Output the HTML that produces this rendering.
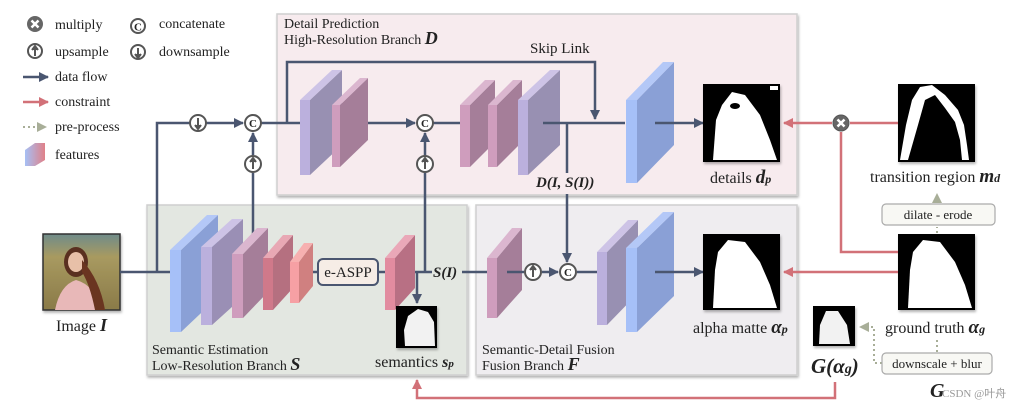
<!DOCTYPE html>
<html><head><meta charset="utf-8"><style>
html,body{margin:0;padding:0;background:#fff}
svg{display:block}
text{font-family:"Liberation Serif",serif;fill:#222}
.b{font-weight:bold;font-style:italic}
</style></head><body>
<svg width="1025" height="409" viewBox="0 0 1025 409" xmlns="http://www.w3.org/2000/svg">
<defs>
<marker id="ad" viewBox="0 0 10 10" refX="9" refY="5" markerWidth="4" markerHeight="4" orient="auto"><path d="M0,0L10,5L0,10z" fill="#4a5670"/></marker>
<marker id="ar" viewBox="0 0 10 10" refX="9" refY="5" markerWidth="4" markerHeight="4" orient="auto"><path d="M0,0L10,5L0,10z" fill="#d27178"/></marker>
<marker id="ag" viewBox="0 0 10 10" refX="9" refY="5" markerWidth="5" markerHeight="5" orient="auto"><path d="M0,0L10,5L0,10z" fill="#a8ae98"/></marker>
<linearGradient id="ph" x1="0" y1="0" x2="0" y2="1"><stop offset="0" stop-color="#6f8c8a"/><stop offset="0.3" stop-color="#a89a60"/><stop offset="1" stop-color="#8a7a48"/></linearGradient>
<linearGradient id="fe" x1="0" y1="0" x2="1" y2="0"><stop offset="0" stop-color="#a6c0f5"/><stop offset="1" stop-color="#e08088"/></linearGradient>
<filter id="sh"><feDropShadow dx="1" dy="2" stdDeviation="1.2" flood-opacity="0.3"/></filter>
</defs>

<rect x="277" y="14" width="520" height="181" fill="#f7ebee" stroke="#cfcfcf" stroke-width="1.5" filter="url(#sh)"/>
<rect x="147" y="205" width="320" height="170" fill="#e3e7e1" stroke="#cfcfcf" stroke-width="1.5" filter="url(#sh)"/>
<rect x="476" y="205" width="321" height="170" fill="#efedf0" stroke="#cfcfcf" stroke-width="1.5" filter="url(#sh)"/>

<text x="284" y="28" font-size="14">Detail Prediction</text>
<text x="284" y="44" font-size="14">High-Resolution Branch <tspan class="b" font-size="18">D</tspan></text>
<text x="152" y="354" font-size="14">Semantic Estimation</text>
<text x="152" y="370" font-size="14">Low-Resolution Branch <tspan class="b" font-size="18">S</tspan></text>
<text x="482" y="354" font-size="14">Semantic-Detail Fusion</text>
<text x="482" y="370" font-size="14">Fusion Branch <tspan class="b" font-size="18">F</tspan></text>

<g stroke="#555" stroke-width="2" fill="#fff">
<circle cx="35" cy="51" r="7"/><circle cx="138" cy="26" r="7"/><circle cx="138" cy="52" r="7"/>
</g>
<circle cx="35" cy="24" r="8" fill="#666"/>
<path d="M31.5,20.5L38.5,27.5M38.5,20.5L31.5,27.5" stroke="#fff" stroke-width="2.5"/>
<path d="M35,56V47M32,50L35,46L38,50" stroke="#555" stroke-width="2" fill="#555"/>
<path d="M138,48V57M135,54L138,58L141,54" stroke="#555" stroke-width="2" fill="#555"/>
<text x="138" y="30.5" font-size="11" text-anchor="middle" font-family="Liberation Sans" fill="#555" font-weight="bold">C</text>
<text x="55" y="29" font-size="14">multiply</text>
<text x="55" y="56" font-size="14">upsample</text>
<text x="159" y="28" font-size="14">concatenate</text>
<text x="159" y="56" font-size="14">downsample</text>
<line x1="23" y1="77" x2="48" y2="77" stroke="#4a5670" stroke-width="2.5" marker-end="url(#ad)"/>
<text x="55" y="81" font-size="14">data flow</text>
<line x1="23" y1="102" x2="48" y2="102" stroke="#d27178" stroke-width="2.5" marker-end="url(#ar)"/>
<text x="55" y="106" font-size="14">constraint</text>
<line x1="23" y1="127" x2="46" y2="127" stroke="#a8ae98" stroke-width="2" stroke-dasharray="2,3" marker-end="url(#ag)"/>
<text x="55" y="131" font-size="14">pre-process</text>
<polygon points="25,150 35,143 45,143 45,160 35,166 25,166" fill="url(#fe)"/>
<text x="55" y="159" font-size="14">features</text>

<rect x="43" y="234" width="77" height="76" fill="url(#ph)" stroke="#333" stroke-width="1.5" filter="url(#sh)"/>
<ellipse cx="76" cy="262" rx="12" ry="15" fill="#5a3020"/>
<ellipse cx="76" cy="262" rx="8" ry="10" fill="#e8c0a8"/>
<path d="M55,310 Q60,285 76,280 Q95,285 100,310Z" fill="#e8b8b8"/>
<path d="M82,260 Q100,280 105,310 L95,310 Q90,285 82,272Z" fill="#6a3520"/>
<text x="56" y="331" font-size="16">Image <tspan class="b" font-size="18">I</tspan></text>

<g stroke="#4a5670" stroke-width="2.5" fill="none">
<path d="M120,272H170"/>
<path d="M157,272V123H190"/>
<path d="M206,123H243" marker-end="url(#ad)"/>
<path d="M261,123H300"/>
<path d="M287,123V62H595V119" marker-end="url(#ad)"/>
<path d="M253,235V173"/>
<path d="M253,155V133" marker-end="url(#ad)"/>
<path d="M355,123H415" marker-end="url(#ad)"/>
<path d="M433,123H460"/>
<path d="M425,272V173"/>
<path d="M425,155V133" marker-end="url(#ad)"/>
<path d="M543,123H625"/>
<path d="M567,123V173"/>
<path d="M567,194V262" marker-end="url(#ad)"/>
<path d="M655,123H703" marker-end="url(#ad)"/>
<path d="M305,272H318"/>
<path d="M378,272H386"/>
<path d="M405,272H432"/>
<path d="M417,272V303" marker-end="url(#ad)"/>
<path d="M462,272H487"/>
<path d="M507,272H524"/>
<path d="M542,272H558" marker-end="url(#ad)"/>
<path d="M577,272H598"/>
<path d="M655,272H703" marker-end="url(#ad)"/>
</g>

<g>
<polygon points="181,250 218,215 218,297 181,332" fill="#8aa0d6"/><polygon points="170,250 181,250 218,215 207,215" fill="#b4c8f7"/><rect x="170" y="250" width="11" height="82" fill="#a6c0f8"/>
<polygon points="212,247 243,219 243,297 212,325" fill="#9a8fb5"/><polygon points="201,247 212,247 243,219 232,219" fill="#cdc3e6"/><rect x="201" y="247" width="11" height="78" fill="#bbb0dd"/>
<polygon points="243,254 268,228 268,292 243,318" fill="#a57e99"/><polygon points="232,254 243,254 268,228 257,228" fill="#dbb6cf"/><rect x="232" y="254" width="11" height="64" fill="#cf9dbd"/>
<polygon points="273,258 293,235 293,288 273,310" fill="#b57080"/><polygon points="263,258 273,258 293,235 283,235" fill="#e8a8b4"/><rect x="263" y="258" width="10" height="52" fill="#d0798a"/>
<polygon points="299,262 313,243 313,286 299,303" fill="#d08080"/><polygon points="290,262 299,262 313,243 304,243" fill="#f7b0b0"/><rect x="290" y="262" width="9" height="41" fill="#f6a0a4"/>
<polygon points="395,258 415,235 415,288 395,310" fill="#b87084"/><polygon points="385,258 395,258 415,235 405,235" fill="#eaa8b8"/><rect x="385" y="258" width="10" height="52" fill="#e28ca0"/>
</g>
<rect x="318" y="259" width="60" height="26" rx="5" fill="#f6ede6" stroke="#4a5670" stroke-width="2"/>
<text x="348" y="277" font-size="15" text-anchor="middle">e-ASPP</text>
<text x="433" y="277" font-size="15" class="b">S(I)</text>
<rect x="396" y="306" width="41" height="42" fill="#000" filter="url(#sh)"/>
<path d="M405,346 L404,330 L408,316 L418,309 L428,312 L434,322 L435,346Z" fill="#fff" opacity="0.95"/>
<text x="375" y="367" font-size="16">semantics <tspan class="b">s<tspan font-size="11">p</tspan></tspan></text>

<g>
<polygon points="310,100 342,70 342,145 310,175" fill="#9890b2"/><polygon points="300,100 310,100 342,70 332,70" fill="#cdc3e6"/><rect x="300" y="100" width="10" height="75" fill="#bbb0dd"/>
<polygon points="340,105 368,78 368,140 340,167" fill="#a57e99"/><polygon points="332,105 340,105 368,78 360,78" fill="#dbb6cf"/><rect x="332" y="105" width="8" height="62" fill="#cf9dbd"/>
<polygon points="470,105 495,80 495,142 470,167" fill="#a57e99"/><polygon points="460,105 470,105 495,80 485,80" fill="#dbb6cf"/><rect x="460" y="105" width="10" height="62" fill="#cf9dbd"/>
<polygon points="497,105 522,80 522,142 497,167" fill="#a57e99"/><polygon points="488,105 497,105 522,80 513,80" fill="#dbb6cf"/><rect x="488" y="105" width="9" height="62" fill="#cf9dbd"/>
<polygon points="528,100 560,70 560,145 528,175" fill="#9890b2"/><polygon points="518,100 528,100 560,70 550,70" fill="#cdc3e6"/><rect x="518" y="100" width="10" height="75" fill="#bbb0dd"/>
<polygon points="637,100 674,62 674,145 637,183" fill="#8aa0d6"/><polygon points="626,100 637,100 674,62 663,62" fill="#b4c8f7"/><rect x="626" y="100" width="11" height="83" fill="#a6c0f8"/>
</g>
<path d="M543,123H560" stroke="#4a5670" stroke-width="2.5"/>
<path d="M655,123H674" stroke="#4a5670" stroke-width="2.5"/>
<text x="530" y="53" font-size="15">Skip Link</text>
<text x="536" y="187" font-size="15" class="b">D(I, S(I))</text>

<g>
<polygon points="497,258 522,228 522,290 497,318" fill="#a57e99"/><polygon points="487,258 497,258 522,228 512,228" fill="#dbb6cf"/><rect x="487" y="258" width="10" height="60" fill="#cf9dbd"/>
<polygon points="607,252 638,220 638,293 607,325" fill="#9890b2"/><polygon points="597,252 607,252 638,220 628,220" fill="#cdc3e6"/><rect x="597" y="252" width="10" height="73" fill="#bbb0dd"/>
<polygon points="637,248 674,212 674,296 637,332" fill="#8aa0d6"/><polygon points="626,248 637,248 674,212 663,212" fill="#b4c8f7"/><rect x="626" y="248" width="11" height="84" fill="#a6c0f8"/>
</g>
<path d="M507,272H522M655,272H674" stroke="#4a5670" stroke-width="2.5"/>

<g stroke="#555" stroke-width="2" fill="#fff">
<circle cx="198" cy="123" r="8"/><circle cx="253" cy="123" r="8"/><circle cx="253" cy="164" r="8"/>
<circle cx="425" cy="123" r="8"/><circle cx="425" cy="164" r="8"/>
<circle cx="533" cy="272" r="8"/><circle cx="568" cy="272" r="8"/>
</g>
<g stroke="#555" stroke-width="2" fill="#555">
<path d="M198,118V128M195,125L198,129L201,125"/>
<path d="M253,169V159M250,162L253,158L256,162"/>
<path d="M425,169V159M422,162L425,158L428,162"/>
<path d="M533,277V267M530,270L533,266L536,270"/>
</g>
<g font-family="Liberation Sans" font-size="11" font-weight="bold" text-anchor="middle">
<text x="253" y="127" fill="#555">C</text><text x="425" y="127" fill="#555">C</text><text x="568" y="276" fill="#555">C</text>
</g>

<rect x="703" y="84" width="77" height="78" fill="#000" filter="url(#sh)"/>
<path d="M713,160 L716,120 L722,105 L732,92 L745,95 L760,115 L770,140 L777,160Z" fill="#fff"/>
<ellipse cx="735" cy="106" rx="5" ry="3" fill="#000"/>
<rect x="770" y="86" width="8" height="4" fill="#fff"/>
<text x="710" y="183" font-size="16">details <tspan class="b" font-size="19">d<tspan font-size="12">p</tspan></tspan></text>

<rect x="898" y="84" width="77" height="78" fill="#000" filter="url(#sh)"/>
<path d="M900,160 L906,125 L912,100 L920,87 L932,85 L945,95 L958,110 L964,125 L967,145 L969,160 L962,160 L960,140 L955,122 L945,108 L935,95 L925,100 L918,125 L908,160Z" fill="#fff"/>
<text x="870" y="182" font-size="16">transition region <tspan class="b" font-size="19">m<tspan font-size="12">d</tspan></tspan></text>

<rect x="703" y="234" width="77" height="76" fill="#000" filter="url(#sh)"/>
<path d="M713,308 L715,270 L718,252 L728,240 L745,242 L760,262 L770,285 L777,308Z" fill="#fff"/>
<text x="693" y="333" font-size="16">alpha matte <tspan class="b" font-size="19">α<tspan font-size="12">p</tspan></tspan></text>

<rect x="898" y="234" width="77" height="76" fill="#000" filter="url(#sh)"/>
<path d="M908,308 L910,270 L913,252 L923,240 L940,242 L955,262 L965,285 L972,308Z" fill="#fff"/>
<text x="885" y="333" font-size="16">ground truth <tspan class="b" font-size="19">α<tspan font-size="12">g</tspan></tspan></text>

<rect x="813" y="306" width="42" height="40" fill="#000" filter="url(#sh)"/>
<path d="M819,344 L820,325 L826,311 L838,311 L847,325 L850,344Z" fill="#fff" opacity="0.95"/>
<text x="811" y="373" font-size="21" class="b">G(α<tspan font-size="14">g</tspan>)</text>

<g stroke="#d27178" stroke-width="2.5" fill="none">
<path d="M898,123H850"/>
<path d="M832,123H784" marker-end="url(#ar)"/>
<path d="M841,132V252H898"/>
<path d="M898,272H784" marker-end="url(#ar)"/>
<path d="M835,382V398H417V380" marker-end="url(#ar)"/>
</g>
<circle cx="841" cy="123" r="8" fill="#666" stroke="#555" stroke-width="1"/>
<path d="M837.5,119.5L844.5,126.5M844.5,119.5L837.5,126.5" stroke="#fff" stroke-width="2.5"/>

<g stroke="#a8ae98" stroke-width="2" fill="none" stroke-dasharray="2,3">
<path d="M937,233V227"/>
<path d="M937,203V194" marker-end="url(#ag)"/>
<path d="M937,340V352"/>
<path d="M882,363H874V327H860" marker-end="url(#ag)"/>
</g>
<rect x="882" y="204" width="113" height="21" rx="4" fill="#f8f8f4" stroke="#aaa" stroke-width="1.2"/>
<text x="938" y="219" font-size="13" text-anchor="middle">dilate - erode</text>
<rect x="882" y="353" width="110" height="21" rx="4" fill="#f8f8f4" stroke="#aaa" stroke-width="1.2"/>
<text x="937" y="368" font-size="13" text-anchor="middle">downscale + blur</text>
<text x="930" y="397" font-size="20" class="b">G</text>
<text x="942" y="397" font-size="11" font-family="Liberation Sans" style="fill:#999">CSDN @叶舟</text>
</svg>
</body></html>
